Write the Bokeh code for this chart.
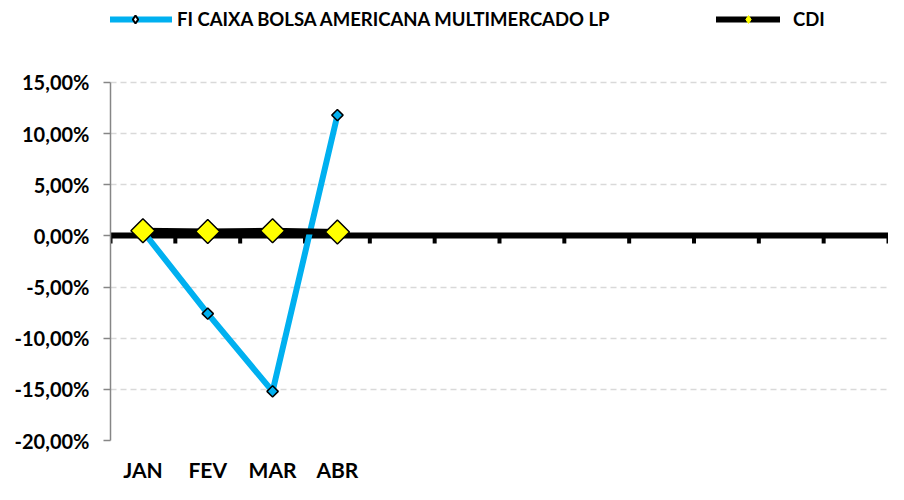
import numpy as np
from bokeh.plotting import figure
from bokeh.models import Range1d, FixedTicker, Legend, LegendItem, ColumnDataSource
from bokeh.embed import file_html
from bokeh.resources import INLINE

# ---- data ----
months = ["JAN", "FEV", "MAR", "ABR", "", "", "", "", "", "", "", ""]
fund_name = "FI CAIXA BOLSA AMERICANA MULTIMERCADO LP"
fund_values = [0.45, -7.6, -15.2, 11.8]
cdi_name = "CDI"
cdi_values = [0.5, 0.42, 0.5, 0.38]
y_ticks = [-20, -15, -10, -5, 0, 5, 10, 15]

# ---- styles / layout ----
FONT = "Lato"
BLUE = "#00B0F0"
GRID = "#d9d9d9"
AXIS = "#868686"
TICK_DEPTH = 0.75   # depth of category tick marks under the zero line (axis units)
TOP_ROOM = 8.0      # empty room above the top tick, used by the legends (axis units)

n = len(months)
x_pos = list(range(1, n + 1))
fund_src = ColumnDataSource(dict(x=x_pos[:len(fund_values)], y=fund_values))
cdi_src = ColumnDataSource(dict(x=x_pos[:len(cdi_values)], y=cdi_values))
key_src = ColumnDataSource(dict(x=np.array([np.nan]), y=np.array([np.nan])))  # legend keys only
bounds = [i + 0.5 for i in range(0, n + 1)]
y_lo, y_hi = min(y_ticks), max(y_ticks)

p = figure(width=888, height=484, output_backend="svg", toolbar_location=None,
           x_range=Range1d(0.5, n + 0.5), y_range=Range1d(y_lo, y_hi + TOP_ROOM),
           min_border_left=110, min_border_right=0, min_border_top=0, min_border_bottom=36)
p.outline_line_color = None
p.xgrid.grid_line_color = None
p.ygrid.ticker = FixedTicker(ticks=y_ticks)
p.ygrid.grid_line_color = GRID
p.ygrid.grid_line_dash = "6 4"
p.ygrid.grid_line_width = 1.5

# y axis
p.yaxis.ticker = FixedTicker(ticks=y_ticks)
p.yaxis.bounds = (y_lo, y_hi)
p.yaxis.major_label_overrides = {t: f"{t:.2f}%".replace(".", ",") for t in y_ticks}
p.yaxis.axis_line_color = AXIS
p.yaxis.axis_line_width = 1.5
p.yaxis.major_tick_line_color = AXIS
p.yaxis.major_tick_line_width = 1.5
p.yaxis.major_tick_out = 7
p.yaxis.major_tick_in = 0
p.yaxis.minor_tick_line_color = None
p.yaxis.major_label_standoff = 14
p.yaxis.major_label_text_font = FONT
p.yaxis.major_label_text_font_style = "bold"
p.yaxis.major_label_text_font_size = "20px"
p.yaxis.major_label_text_color = "black"

# x axis (labels only, at the bottom)
p.xaxis.ticker = FixedTicker(ticks=x_pos)
p.xaxis.major_label_overrides = {x: m for x, m in zip(x_pos, months)}
p.xaxis.axis_line_color = None
p.xaxis.major_tick_line_color = None
p.xaxis.minor_tick_line_color = None
p.xaxis.major_label_standoff = 10
p.xaxis.major_label_text_font = FONT
p.xaxis.major_label_text_font_style = "bold"
p.xaxis.major_label_text_font_size = "21px"
p.xaxis.major_label_text_color = "black"

# category tick marks hanging under the zero line
p.segment(x0=bounds, y0=[0] * len(bounds), x1=bounds, y1=[-TICK_DEPTH] * len(bounds),
          line_color="black", line_width=4)
# zero line (category axis crossing at 0)
p.hspan(y=[0], line_color="black", line_width=6)

# series
fund_line = p.line("x", "y", source=fund_src, line_color=BLUE, line_width=6, line_cap="round")
fund_pts = p.scatter("x", "y", source=fund_src, marker="square", angle=45, angle_units="deg",
                     size=8, fill_color=BLUE, line_color="black", line_width=1.5)
cdi_line = p.line("x", "y", source=cdi_src, line_color="black", line_width=6, line_cap="round")
cdi_pts = p.scatter("x", "y", source=cdi_src, marker="square", angle=45, angle_units="deg",
                    size=17, fill_color="#FFFF00", line_color="black", line_width=1.5)

# legend-only markers (diamonds)
fund_key = p.scatter("x", "y", source=key_src, marker="diamond",
                     fill_color="white", line_color="black", line_width=2)
cdi_key = p.scatter("x", "y", source=key_src, marker="diamond",
                    fill_color="#FFFF00", line_color="#FFFF00", line_width=1)

common = dict(padding=0, margin=0, border_line_color=None, background_fill_alpha=0,
              label_text_font=FONT, label_text_font_style="bold", label_text_font_size="18.5px",
              label_text_color="black", glyph_height=20, label_height=20)
leg1 = Legend(items=[LegendItem(label=fund_name, renderers=[fund_line, fund_key])],
              location=(-12, 410), glyph_width=74, label_standoff=5, **common)
leg2 = Legend(items=[LegendItem(label=cdi_name, renderers=[cdi_line, cdi_key])],
              location=(606, 410), glyph_width=64, label_standoff=13, **common)
p.add_layout(leg1)
p.add_layout(leg2)

open("out.html", "w").write(file_html(p, INLINE))
